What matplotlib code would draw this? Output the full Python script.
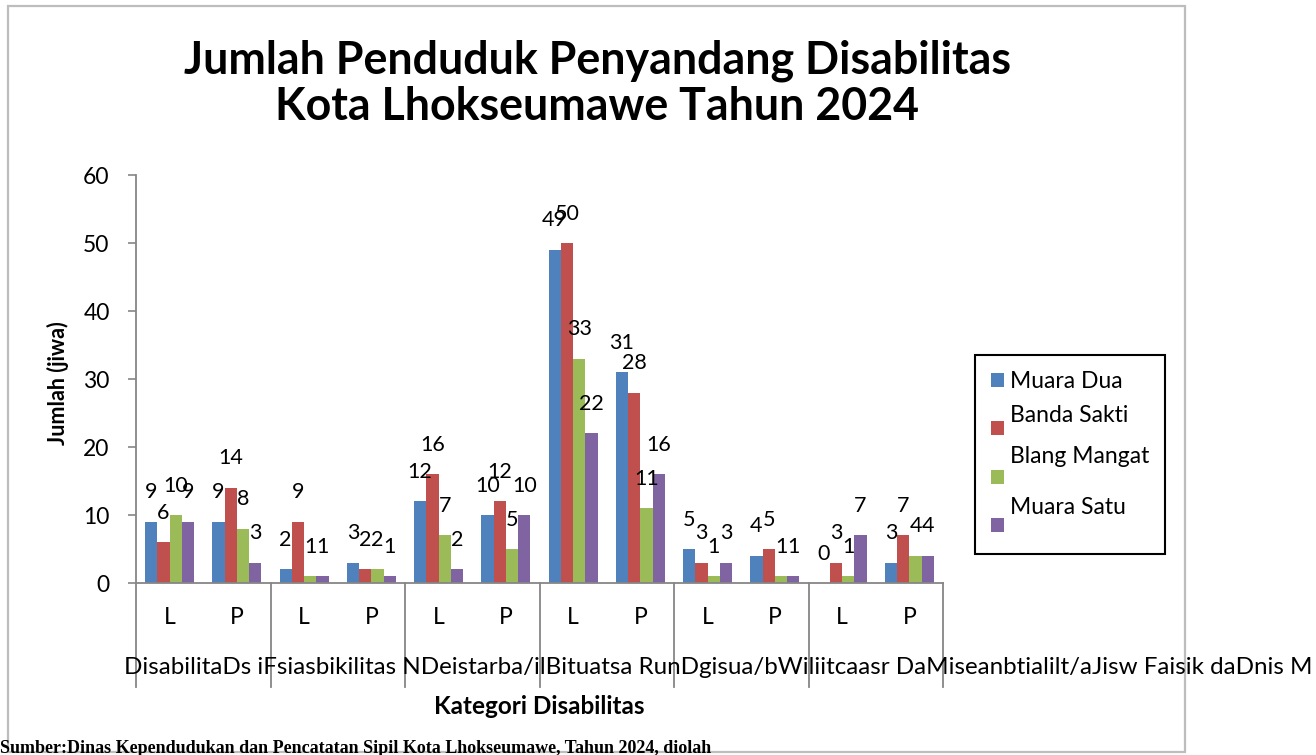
import matplotlib
matplotlib.use("Agg")
import matplotlib.pyplot as plt
import matplotlib.transforms as mtransforms
from matplotlib.patches import Rectangle
import numpy as np

plt.rcParams['font.family'] = ['Lato', 'DejaVu Sans']

# data
jenis_kelamin = ['L', 'P'] * 6
kecamatan = ['Muara Dua', 'Banda Sakti', 'Blang Mangat', 'Muara Satu']
muara_dua = [9, 9, 2, 3, 12, 10, 49, 31, 5, 4, 0, 3]
banda_sakti = [6, 14, 9, 2, 16, 12, 50, 28, 3, 5, 3, 7]
blang_mangat = [10, 8, 1, 2, 7, 5, 33, 11, 1, 1, 1, 4]
muara_satu = [9, 3, 1, 1, 2, 10, 22, 16, 3, 1, 7, 4]
# category row as it appears in the picture (labels run into each other)
kategori_teks = ('DisabilitaDs iFsiasbikilitas NDeistarba/ilBituatsa RunDgisua/bWiliitcaasr '
                 'DaMiseanbtialilt/aJisw Faisik daDnis M')
warna = ['#4F81BD', '#C0504D', '#9BBB59', '#8064A2']
axis_col = '#868686'

W, H = 1316, 755
fig = plt.figure(figsize=(W / 100, H / 100), dpi=100)

def fx(px):
    return px / W

def fy(py):
    return (H - py) / H

# chart area frame
fig.patches.append(Rectangle((fx(8), fy(752)), fx(1185) - fx(8), fy(6) - fy(752),
                             transform=fig.transFigure, fill=False,
                             edgecolor='#BDBDBD', lw=1.6))

ax_l, ax_r, ax_t, ax_b = 136, 943, 175, 583
ax = fig.add_axes([fx(ax_l), fy(ax_b), fx(ax_r) - fx(ax_l), fy(ax_t) - fy(ax_b)])

series = [muara_dua, banda_sakti, blang_mangat, muara_satu]
x = np.arange(len(jenis_kelamin))
bw = 0.183
for i, (nama, vals) in enumerate(zip(kecamatan, series)):
    bars = ax.bar(x + (i - 1.5) * bw, vals, bw, color=warna[i], label=nama)
    ax.bar_label(bars, padding=14, fontsize=15.5)

ax.set_xlim(-0.5, len(x) - 0.5)
ax.set_ylim(0, 60)
ax.set_yticks(range(0, 61, 10))
ax.tick_params(axis='y', direction='out', length=6, width=1.2, color=axis_col,
               labelsize=16.5, pad=13)
ax.set_xticks(x)
ax.set_xticklabels(jenis_kelamin, fontsize=16.5)
ax.tick_params(axis='x', length=0, pad=17)
for s in ['top', 'right']:
    ax.spines[s].set_visible(False)
for s in ['left', 'bottom']:
    ax.spines[s].set_color(axis_col)
    ax.spines[s].set_linewidth(1.3)

# group separators of the two-level category axis
trans = mtransforms.blended_transform_factory(ax.transData, ax.transAxes)
for b in np.arange(-0.5, len(x), 2):
    ax.plot([b, b], [0, -0.255], transform=trans, color=axis_col, lw=1.3,
            clip_on=False)

ax.set_ylabel('Jumlah (jiwa)', fontsize=15.5, fontweight='bold')
ax.yaxis.set_label_coords((69 - ax_l) / (ax_r - ax_l), 0.49)

fig.text(fx(124), fy(668), kategori_teks, fontsize=17.4, ha='left', va='center')
fig.text(fx(539), fy(706), 'Kategori Disabilitas', fontsize=17.5, fontweight='bold',
         ha='center', va='center')

fig.text(fx(597), fy(84), 'Jumlah Penduduk Penyandang Disabilitas\nKota Lhokseumawe Tahun 2024',
         fontsize=32.2, fontweight='bold', ha='center', va='center', linespacing=1.12)

fig.text(fx(0), fy(753), 'Sumber:Dinas Kependudukan dan Pencatatan Sipil Kota Lhokseumawe, Tahun 2024, diolah',
         fontsize=13, fontweight='bold', family='Liberation Serif', ha='left', va='baseline')

leg = ax.legend(loc='upper left', bbox_to_anchor=(fx(975), fy(355)),
                bbox_transform=fig.transFigure, fontsize=16.5, frameon=True,
                fancybox=False, edgecolor='black', framealpha=1,
                borderpad=0.7, labelspacing=1.2, handlelength=0.57,
                handleheight=0.57, handletextpad=0.25, borderaxespad=0)
leg.get_frame().set_linewidth(1.5)
for t, dy in zip(leg.get_texts(), [0, 15, 22, 20]):
    t.set_position((0, dy))

fig.savefig('out.png', dpi=100)
